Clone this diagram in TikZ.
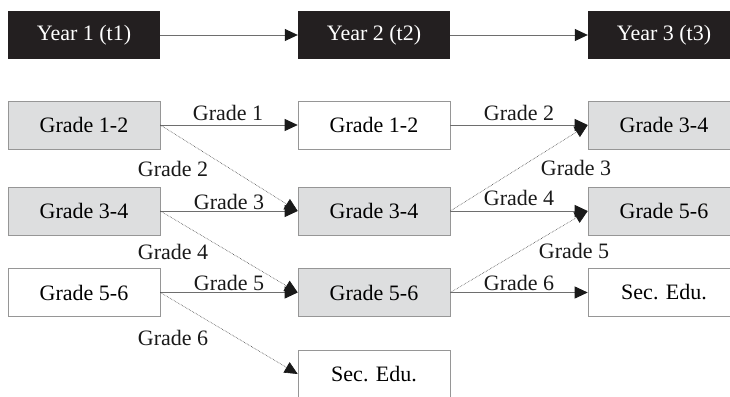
\documentclass[tikz,border=0pt]{standalone}
\usepackage{fontspec}
\setmainfont{Liberation Serif}
\usetikzlibrary{arrows.meta}
\definecolor{yearfill}{RGB}{35,31,32}
\definecolor{cellfill}{RGB}{221,222,223}
\definecolor{cellline}{RGB}{150,150,150}
\definecolor{flowline}{RGB}{110,110,110}
\definecolor{dotline}{RGB}{70,70,70}
\definecolor{tipfill}{RGB}{25,25,25}
\begin{document}
\begin{tikzpicture}[x=1pt,y=-1pt,
  every node/.style={font=\fontsize{22}{26}\selectfont},
  year/.style={fill=yearfill,text=white,minimum width=152pt,minimum height=48pt,inner sep=0pt},
  cell/.style={draw=cellline,line width=0.6pt,minimum width=152pt,minimum height=48pt,inner sep=0pt},
  shaded/.style={cell,fill=cellfill},
  plain/.style={cell,fill=white},
  lbl/.style={inner sep=0pt,text=black!90},
  tip/.style={-{Triangle[length=13pt,width=12pt,color=tipfill,fill=tipfill]}},
  flow/.style={tip,draw=flowline,line width=0.8pt},
  moveup/.style={tip,draw=dotline,line width=0.6pt,densely dotted},
]
\useasboundingbox (0,0) rectangle (730,396);
\clip (0,0) rectangle (730,396);

% time axis
\node[year] (y1) at (84,35) {Year 1 (t1)};
\node[year] (y2) at (374,35) {Year 2 (t2)};
\node[year] (y3) at (664,35) {Year 3 (t3)};
\draw[flow] (y1) -- (y2);
\draw[flow] (y2) -- (y3);

% year 1 cohorts
\node[shaded] (a1) at (84,125) {Grade 1-2};
\node[shaded] (a2) at (84,211) {Grade 3-4};
\node[plain]  (a3) at (84,292.5) {Grade 5-6};

% year 2 cohorts
\node[plain]  (b1) at (374,125) {Grade 1-2};
\node[shaded] (b2) at (374,211) {Grade 3-4};
\node[shaded] (b3) at (374,292.5) {Grade 5-6};
\node[plain]  (b4) at (374,374) {Sec. Edu.};

% year 3 cohorts
\node[shaded] (c1) at (664,125) {Grade 3-4};
\node[shaded] (c2) at (664,211) {Grade 5-6};
\node[plain]  (c3) at (664,292.5) {Sec. Edu.};

% transitions year 1 -> year 2
\draw[flow]   (a1.east) -- (b1.west);
\draw[moveup] (a1.east) -- (b2.west);
\draw[flow]   (a2.east) -- (b2.west);
\draw[moveup] (a2.east) -- (b3.west);
\draw[flow]   (a3.east) -- (b3.west);
\draw[moveup] (a3.east) -- (b4.west);

% transitions year 2 -> year 3
\draw[flow]   (b1.east) -- (c1.west);
\draw[moveup] (b2.east) -- (c1.west);
\draw[flow]   (b2.east) -- (c2.west);
\draw[moveup] (b3.east) -- (c2.west);
\draw[flow]   (b3.east) -- (c3.west);

% grade labels
\node[lbl] (g11) at (228,113) {Grade 1};
\node[lbl] (g12) at (173,169) {Grade 2};
\node[lbl] (g13) at (229,202) {Grade 3};
\node[lbl] (g14) at (173,252) {Grade 4};
\node[lbl] (g15) at (229,283) {Grade 5};
\node[lbl] (g16) at (173,338) {Grade 6};
\node[lbl] (g22) at (519,113) {Grade 2};
\node[lbl] (g23) at (576,168) {Grade 3};
\node[lbl] (g24) at (519,198) {Grade 4};
\node[lbl] (g25) at (574,251) {Grade 5};
\node[lbl] (g26) at (519,283) {Grade 6};
\end{tikzpicture}
\end{document}
